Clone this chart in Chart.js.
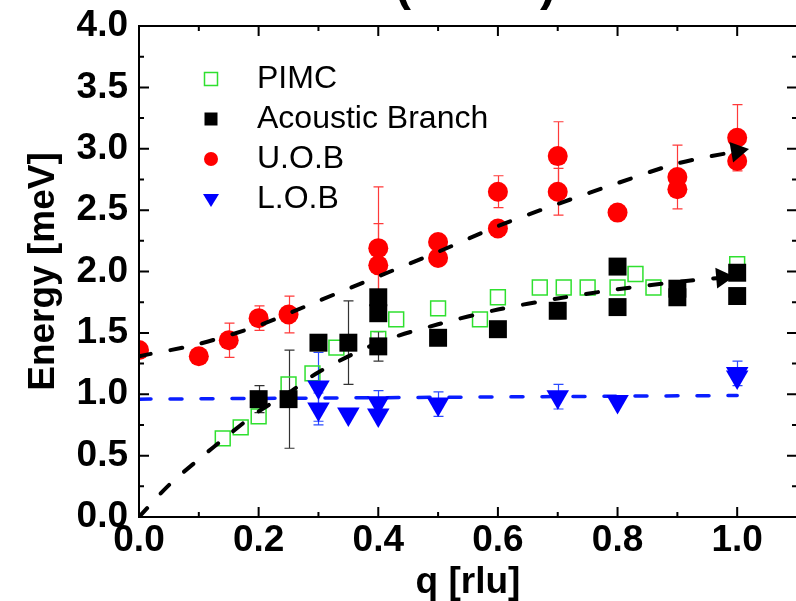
<!DOCTYPE html>
<html>
<head>
<meta charset="utf-8">
<script src="https://cdn.jsdelivr.net/npm/chart.js@4.4.1/dist/chart.umd.min.js"></script>
<style>
  html, body { margin: 0; padding: 0; background: #fff; overflow: hidden; }
  #wrap { width: 810px; height: 601px; }
</style>
</head>
<body>
<div id="wrap"><canvas id="chart" width="810" height="601"></canvas></div>
<script>
// ---- data ----
const xTickValues = [0.0, 0.2, 0.4, 0.6, 0.8, 1.0];
const yTickValues = [0.0, 0.5, 1.0, 1.5, 2.0, 2.5, 3.0, 3.5, 4.0];

const pimcQ = [0.14, 0.17, 0.20, 0.25, 0.29, 0.33, 0.40, 0.43, 0.50, 0.57, 0.60, 0.67, 0.71, 0.75, 0.80, 0.83, 0.86, 1.00];
const pimcE = [0.64, 0.73, 0.82, 1.08, 1.17, 1.38, 1.45, 1.61, 1.70, 1.61, 1.79, 1.87, 1.87, 1.87, 1.87, 1.98, 1.87, 2.06];

const acQ   = [0.20, 0.25, 0.30, 0.35, 0.40, 0.40, 0.40, 0.50, 0.60, 0.70, 0.80, 0.80, 0.90, 0.90, 1.00, 1.00];
const acE   = [0.96, 0.96, 1.42, 1.42, 1.79, 1.66, 1.39, 1.46, 1.53, 1.68, 2.04, 1.71, 1.86, 1.79, 1.99, 1.80];
const acErr = [0.11, 0.40, 0.00, 0.34, 0.00, 0.00, 0.12, 0.00, 0.00, 0.00, 0.00, 0.00, 0.00, 0.00, 0.00, 0.00];

const uobQ   = [0.00, 0.10, 0.15, 0.20, 0.25, 0.40, 0.40, 0.50, 0.50, 0.60, 0.60, 0.70, 0.70, 0.80, 0.90, 0.90, 1.00, 1.00];
const uobE   = [1.36, 1.31, 1.44, 1.62, 1.65, 2.19, 2.05, 2.24, 2.11, 2.65, 2.35, 2.94, 2.65, 2.48, 2.77, 2.67, 3.09, 2.90];
const uobErr = [0.00, 0.00, 0.14, 0.10, 0.15, 0.50, 0.34, 0.00, 0.00, 0.13, 0.00, 0.28, 0.19, 0.00, 0.26, 0.00, 0.27, 0.00];

const lobQ   = [0.30, 0.30, 0.35, 0.40, 0.40, 0.50, 0.70, 0.80, 1.00, 1.00];
const lobE   = [1.06, 0.88, 0.84, 0.93, 0.83, 0.92, 0.98, 0.94, 1.17, 1.14];
const lobErr = [0.28, 0.13, 0.00, 0.10, 0.00, 0.10, 0.10, 0.00, 0.10, 0.00];

// dashed guide curves
const upperFitQ = [0.00, 0.10, 0.20, 0.30, 0.40, 0.50, 0.60, 0.70, 0.80, 0.90, 1.00];
const upperFitE = [1.31, 1.41, 1.56, 1.76, 1.96, 2.16, 2.37, 2.55, 2.72, 2.88, 2.98];
const lowerFitQ = [0.00, 0.05, 0.10, 0.15, 0.20, 0.25, 0.30, 0.40, 0.50, 0.60, 0.70, 0.80, 0.90, 0.975];
const lowerFitE = [0.00, 0.26, 0.47, 0.67, 0.86, 1.01, 1.18, 1.42, 1.57, 1.69, 1.78, 1.855, 1.915, 1.95];
const flatFitQ  = [0.00, 1.00];
const flatFitE  = [0.96, 0.99];

const FONT = 'Liberation Sans, Arial, sans-serif';

function to_points(qs, es)
{
	return qs.map((q, i) => ({ x: q, y: es[i] }));
}

function arrow_radius(n, r)
{
	return ctx => (ctx.dataIndex === n - 1 ? r : 0);
}

// error bars are drawn under the markers
const errorBarPlugin = {
	id: 'errorBars',
	beforeDatasetsDraw(chart) {
		const ctx = chart.ctx;
		const xs = chart.scales.x, ys = chart.scales.y;
		chart.data.datasets.forEach(ds => {
			if(!ds.errors) return;
			ctx.save();
			ctx.strokeStyle = ds.errorColor;
			ctx.lineWidth = 1.2;
			ds.data.forEach((p, i) => {
				const e = ds.errors[i];
				if(!e) return;
				const px = Math.round(xs.getPixelForValue(p.x)) + 0.5;
				const top = ys.getPixelForValue(p.y + e);
				const bot = ys.getPixelForValue(p.y - e);
				ctx.beginPath();
				ctx.moveTo(px, top); ctx.lineTo(px, bot);
				ctx.moveTo(px - 5, top); ctx.lineTo(px + 5, top);
				ctx.moveTo(px - 5, bot); ctx.lineTo(px + 5, bot);
				ctx.stroke();
			});
			ctx.restore();
		});
	}
};

// box frame with inward ticks on all four sides
const framePlugin = {
	id: 'frame',
	afterDatasetsDraw(chart) {
		const ctx = chart.ctx;
		const a = chart.chartArea;
		const xs = chart.scales.x, ys = chart.scales.y;
		ctx.save();
		ctx.strokeStyle = '#000';
		ctx.lineWidth = 2;
		ctx.strokeRect(a.left, a.top, a.right - a.left, a.bottom - a.top);
		ctx.beginPath();
		for(let i = 0; i <= 11; ++i) {
			const px = xs.getPixelForValue(i / 10);
			const len = (i % 2 === 0) ? 10 : 5;
			ctx.moveTo(px, a.bottom); ctx.lineTo(px, a.bottom - len);
			ctx.moveTo(px, a.top);    ctx.lineTo(px, a.top + len);
		}
		for(let i = 0; i <= 16; ++i) {
			const py = ys.getPixelForValue(i / 4);
			const len = (i % 2 === 0) ? 10 : 5;
			ctx.moveTo(a.left, py);  ctx.lineTo(a.left + len, py);
			ctx.moveTo(a.right, py); ctx.lineTo(a.right - len, py);
		}
		ctx.stroke();
		ctx.restore();
	}
};

// legend in the upper left of the plot
const legendPlugin = {
	id: 'insideLegend',
	afterDraw(chart) {
		const ctx = chart.ctx;
		ctx.save();
		ctx.font = '32px ' + FONT;
		ctx.textBaseline = 'middle';
		ctx.fillStyle = '#000';
		let row = 0;
		chart.data.datasets.forEach(ds => {
			if(!ds.inLegend) return;
			const y = 79 + row * 40, x = 211;
			ctx.save();
			ctx.fillStyle = ds.backgroundColor;
			ctx.strokeStyle = ds.borderColor;
			ctx.beginPath();
			if(ds.pointStyle === 'rect') {
				ctx.rect(x - 6.5, y - 6.5, 13, 13);
			} else if(ds.pointStyle === 'circle') {
				ctx.arc(x, y, 7, 0, Math.PI * 2);
			} else {
				ctx.moveTo(x - 8, y - 5); ctx.lineTo(x + 8, y - 5); ctx.lineTo(x, y + 8); ctx.closePath();
			}
			if(ds.hollow) { ctx.lineWidth = 1.5; ctx.stroke(); } else { ctx.fill(); }
			ctx.restore();
			ctx.fillText(ds.label, 257, y);
			++row;
		});
		ctx.restore();
	}
};

// the clipped title above the frame
const titlePlugin = {
	id: 'clippedTitle',
	afterDraw(chart) {
		const ctx = chart.ctx;
		ctx.save();
		ctx.font = 'bold 48px ' + FONT;
		ctx.fillStyle = '#000';
		ctx.textBaseline = 'alphabetic';
		ctx.textAlign = 'left';
		ctx.fillText('(', 395, 0);
		ctx.fillText(')', 540, 0);
		ctx.restore();
	}
};

const tickFont = { family: FONT, size: 37, weight: 'bold' };
const titleFont = { family: FONT, size: 37, weight: 'bold', lineHeight: 1 };

const chart = new Chart(document.getElementById('chart'), {
	type: 'scatter',
	data: {
		datasets: [
			{
				label: 'PIMC', inLegend: true, hollow: true,
				data: to_points(pimcQ, pimcE),
				pointStyle: 'rect', pointRadius: 10.5, pointBorderWidth: 1.5,
				borderColor: '#2fe02f', backgroundColor: 'rgba(255,255,255,0)',
				order: 4
			},
			{
				label: 'Acoustic Branch', inLegend: true,
				data: to_points(acQ, acE),
				errors: acErr, errorColor: '#333',
				pointStyle: 'rect', pointRadius: 12.7, pointBorderWidth: 0,
				borderColor: '#000', backgroundColor: '#000',
				order: 2
			},
			{
				label: 'U.O.B', inLegend: true,
				data: to_points(uobQ, uobE),
				errors: uobErr, errorColor: '#ff3a3a',
				pointStyle: 'circle', pointRadius: 10, pointBorderWidth: 0,
				borderColor: '#ff0000', backgroundColor: '#ff0000',
				clip: 0,
				order: 1
			},
			{
				label: 'L.O.B', inLegend: true,
				data: to_points(lobQ, lobE),
				errors: lobErr, errorColor: '#2b4bff',
				pointStyle: 'triangle', pointRotation: 180, pointRadius: 13, pointBorderWidth: 0,
				borderColor: '#0000ff', backgroundColor: '#0000ff',
				order: 3
			},
			{
				label: 'upper guide',
				data: to_points(upperFitQ, upperFitE),
				showLine: true, tension: 0.3,
				borderColor: '#000', borderWidth: 4, borderDash: [12, 20], borderCapStyle: 'round',
				pointStyle: 'triangle', pointRotation: 80, pointBorderWidth: 0,
				pointRadius: arrow_radius(upperFitQ.length, 12), backgroundColor: '#000',
				order: 0
			},
			{
				label: 'lower guide',
				data: to_points(lowerFitQ, lowerFitE),
				showLine: true, tension: 0.3,
				borderColor: '#000', borderWidth: 4, borderDash: [12, 20], borderCapStyle: 'round',
				pointStyle: 'triangle', pointRotation: 85, pointBorderWidth: 0,
				pointRadius: arrow_radius(lowerFitQ.length, 12), backgroundColor: '#000',
				order: 0
			},
			{
				label: 'flat guide',
				data: to_points(flatFitQ, flatFitE),
				showLine: true,
				borderColor: '#0a1eff', borderWidth: 3.5, borderDash: [12, 19], borderCapStyle: 'round',
				pointRadius: 0,
				order: 3
			}
		]
	},
	options: {
		responsive: false,
		animation: false,
		layout: { padding: { top: 26, right: 11, left: 0, bottom: 0 } },
		plugins: {
			legend: { display: false },
			tooltip: { enabled: false },
			title: { display: false }
		},
		scales: {
			x: {
				type: 'linear', min: 0, max: 1.1,
				afterBuildTicks: s => { s.ticks = xTickValues.map(v => ({ value: v })); },
				afterFit: s => { s.height = 84; s.paddingLeft = 0; s.paddingRight = 0; },
				grid: { display: false, drawTicks: false },
				border: { display: false },
				ticks: {
					font: tickFont, color: '#000', padding: 2, maxRotation: 0, autoSkip: false,
					callback: v => v.toFixed(1)
				},
				title: { display: true, text: 'q [rlu]', font: titleFont, color: '#000', padding: { top: 0, bottom: 0 } }
			},
			y: {
				type: 'linear', min: 0, max: 4,
				afterBuildTicks: s => { s.ticks = yTickValues.map(v => ({ value: v })); },
				afterFit: s => { s.width = 139; s.paddingTop = 0; s.paddingBottom = 0; },
				grid: { display: false, drawTicks: false },
				border: { display: false },
				ticks: {
					font: tickFont, color: '#000', padding: 11, autoSkip: false,
					callback: v => v.toFixed(1)
				},
				title: { display: true, text: 'Energy [meV]', font: titleFont, color: '#000', padding: { top: 25, bottom: 0 } }
			}
		}
	},
	plugins: [errorBarPlugin, framePlugin, legendPlugin, titlePlugin]
});
</script>
</body>
</html>
